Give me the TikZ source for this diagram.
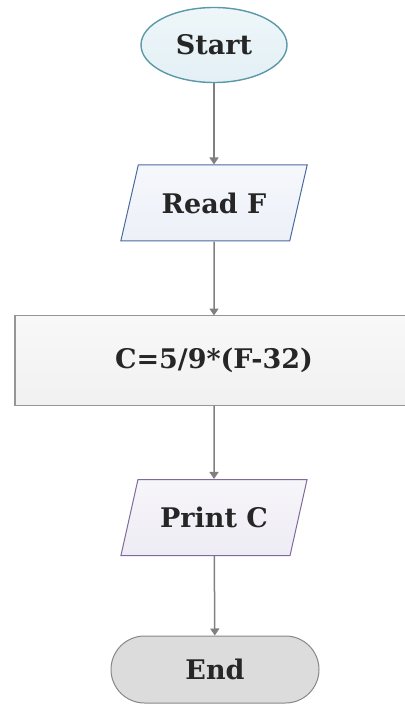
\documentclass[tikz,border=0pt]{standalone}
\usepackage{fontspec}
\setmainfont{DejaVu Serif}
\usetikzlibrary{shapes.geometric, shapes.misc, arrows.meta, backgrounds}

\definecolor{startLine}{HTML}{5B98A8}
\definecolor{startFill}{HTML}{E3F0F5}
\definecolor{readLine}{HTML}{4A6A9E}
\definecolor{readFill}{HTML}{ECF0F8}
\definecolor{calcLine}{HTML}{969696}
\definecolor{calcFill}{HTML}{F1F1F1}
\definecolor{printLine}{HTML}{7E6A9C}
\definecolor{printFill}{HTML}{EEECF4}
\definecolor{endLine}{HTML}{888888}
\definecolor{endFill}{HTML}{DCDCDC}
\definecolor{flowLine}{HTML}{808080}
\definecolor{labelText}{HTML}{262626}

\tikzset{
    box/.style={draw, line width=0.5pt, text=labelText,
        font=\fontsize{13.5}{15}\selectfont\bfseries, inner sep=0pt},
    startbox/.style={box, ellipse, draw=startLine, line width=0.7pt,
        top color=startFill!60!white, bottom color=startFill,
        minimum width=73pt, minimum height=37.5pt},
    iobox/.style={box, trapezium, trapezium left angle=60, trapezium right angle=120,
        trapezium stretches=true, minimum width=93.5pt, minimum height=38pt},
    calcbox/.style={box, rectangle, draw=none, minimum height=44.5pt},
    calcframe/.style={draw=calcLine, line width=0.6pt, top color=calcFill!50!white,
        bottom color=calcFill},
    endbox/.style={box, rounded rectangle, draw=endLine, fill=endFill,
        minimum width=104pt, minimum height=33.5pt},
    flow/.style={draw=flowLine, line width=0.75pt, -{Triangle[width=4.5pt,length=3.5pt]}}
}

\begin{document}
\begin{tikzpicture}[x=0.5pt, y=-0.5pt]

    \def\midX{214}
    \def\calcLeft{15}
    \def\calcRight{440}

    % frame of the picture
    \useasboundingbox (0, 0) rectangle (404, 705);

    % start
    \node[startbox] (start) at (\midX, 45) {Start};

    % input
    \node[iobox, draw=readLine, top color=readFill!50!white, bottom color=readFill]
        (readF) at (\midX, 203) {Read F};

    % formula, its box runs off the right edge
    \node[calcbox] (calc) at (\midX, 360.5) {C=5/9*(F-32)};
    \begin{scope}[on background layer]
        \draw[calcframe] (\calcLeft, 0 |- calc.north) rectangle (\calcRight, 0 |- calc.south);
    \end{scope}

    % output
    \node[iobox, draw=printLine, top color=printFill!50!white, bottom color=printFill]
        (printC) at (\midX, 517.5) {Print C};

    % end
    \node[endbox] (stop) at (215, 669.5) {End};

    %arrows
    \draw[flow] (start) -- (readF);
    \draw[flow] (readF) -- (calc);
    \draw[flow] (calc) -- (printC);
    \draw[flow] (printC) -- (stop);

\end{tikzpicture}
\end{document}
